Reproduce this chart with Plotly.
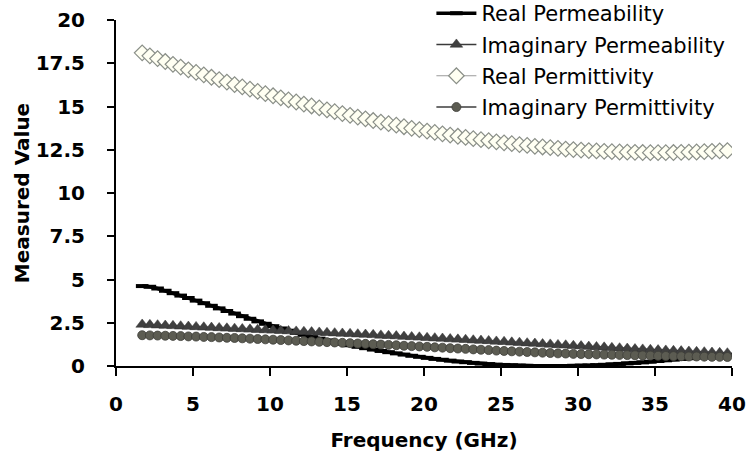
import plotly.graph_objects as go

frequency = [1.7, 2.2, 2.7, 3.2, 3.7, 4.2, 4.7, 5.2, 5.7, 6.2, 6.7, 7.2, 7.7, 8.2, 8.7, 9.2,
             9.7, 10.2, 10.7, 11.2, 11.7, 12.2, 12.7, 13.2, 13.7, 14.2, 14.7, 15.2, 15.7,
             16.2, 16.7, 17.2, 17.7, 18.2, 18.7, 19.2, 19.7, 20.2, 20.7, 21.2, 21.7, 22.2,
             22.7, 23.2, 23.7, 24.2, 24.7, 25.2, 25.7, 26.2, 26.7, 27.2, 27.7, 28.2, 28.7,
             29.2, 29.7, 30.2, 30.7, 31.2, 31.7, 32.2, 32.7, 33.2, 33.7, 34.2, 34.7, 35.2,
             35.7, 36.2, 36.7, 37.2, 37.7, 38.2, 38.7, 39.2, 39.7]

real_permeability = [4.62, 4.58, 4.48, 4.35, 4.21, 4.07, 3.93, 3.78, 3.63, 3.48, 3.33, 3.18,
                     3.03, 2.88, 2.73, 2.58, 2.44, 2.30, 2.17, 2.04, 1.92, 1.80, 1.69, 1.58,
                     1.48, 1.38, 1.29, 1.20, 1.11, 1.03, 0.95, 0.87, 0.80, 0.73, 0.66, 0.59,
                     0.53, 0.47, 0.41, 0.36, 0.31, 0.26, 0.22, 0.18, 0.14, 0.11, 0.08, 0.06,
                     0.04, 0.02, 0.01, 0.00, 0.00, 0.00, 0.00, 0.00, 0.01, 0.02, 0.03, 0.05,
                     0.07, 0.09, 0.12, 0.15, 0.18, 0.21, 0.25, 0.29, 0.33, 0.37, 0.41, 0.45,
                     0.49, 0.53, 0.57, 0.61, 0.65]

imaginary_permeability = [2.40, 2.38, 2.36, 2.34, 2.32, 2.30, 2.28, 2.26, 2.24, 2.22, 2.20,
                          2.18, 2.16, 2.14, 2.12, 2.10, 2.08, 2.06, 2.04, 2.02, 2.00, 1.98,
                          1.96, 1.94, 1.92, 1.90, 1.88, 1.86, 1.84, 1.82, 1.80, 1.77, 1.75,
                          1.73, 1.70, 1.68, 1.66, 1.63, 1.61, 1.59, 1.56, 1.54, 1.52, 1.49,
                          1.47, 1.45, 1.42, 1.40, 1.37, 1.35, 1.32, 1.30, 1.27, 1.25, 1.22,
                          1.20, 1.17, 1.15, 1.12, 1.10, 1.08, 1.05, 1.03, 1.01, 0.98, 0.96,
                          0.94, 0.92, 0.90, 0.88, 0.86, 0.84, 0.82, 0.80, 0.78, 0.76, 0.74]

real_permittivity = [18.10, 17.93, 17.77, 17.60, 17.44, 17.28, 17.12, 16.97, 16.83, 16.69,
                     16.55, 16.41, 16.27, 16.13, 16.00, 15.87, 15.74, 15.62, 15.50, 15.38,
                     15.26, 15.14, 15.03, 14.92, 14.81, 14.70, 14.59, 14.49, 14.39, 14.29,
                     14.19, 14.10, 14.01, 13.92, 13.83, 13.74, 13.66, 13.58, 13.50, 13.42,
                     13.35, 13.28, 13.21, 13.14, 13.08, 13.02, 12.96, 12.90, 12.85, 12.80,
                     12.75, 12.70, 12.66, 12.62, 12.58, 12.54, 12.51, 12.48, 12.45, 12.43,
                     12.41, 12.39, 12.37, 12.36, 12.35, 12.34, 12.33, 12.33, 12.33, 12.34,
                     12.35, 12.36, 12.37, 12.39, 12.41, 12.43, 12.45]

imaginary_permittivity = [1.78, 1.77, 1.76, 1.75, 1.74, 1.73, 1.71, 1.70, 1.68, 1.67, 1.65,
                          1.63, 1.62, 1.60, 1.58, 1.56, 1.54, 1.52, 1.50, 1.48, 1.46, 1.44,
                          1.42, 1.40, 1.38, 1.36, 1.34, 1.32, 1.30, 1.28, 1.26, 1.24, 1.22,
                          1.20, 1.17, 1.15, 1.13, 1.11, 1.08, 1.06, 1.03, 1.01, 0.99, 0.96,
                          0.94, 0.92, 0.89, 0.87, 0.85, 0.83, 0.81, 0.79, 0.77, 0.75, 0.73,
                          0.72, 0.70, 0.69, 0.68, 0.67, 0.66, 0.65, 0.64, 0.63, 0.62, 0.61,
                          0.60, 0.59, 0.58, 0.57, 0.56, 0.55, 0.55, 0.54, 0.53, 0.53, 0.52]

x_ticks = [0, 5, 10, 15, 20, 25, 30, 35, 40]
y_ticks = [0, 2.5, 5, 7.5, 10, 12.5, 15, 17.5, 20]
y_tick_labels = ["0", "2.5", "5", "7.5", "10", "12.5", "15", "17.5", "20"]

BOLD = "DejaVu Sans, Arial, sans-serif"
LEG = "DejaVu Sans, Arial, sans-serif"

fig = go.Figure()
fig.add_trace(go.Scatter(
    x=frequency, y=real_permeability, name="Real Permeability", mode="lines+markers",
    line=dict(color="black", width=3.5),
    marker=dict(symbol="line-ew", size=9, line=dict(color="black", width=4)),
    legendgroup="a"))
fig.add_trace(go.Scatter(
    x=frequency, y=imaginary_permeability, name="Imaginary Permeability", mode="lines+markers",
    line=dict(color="#3a3a3a", width=1.5),
    marker=dict(symbol="triangle-up", size=11, color="#404040",
                line=dict(color="#333333", width=0.5)),
    legendgroup="b"))
fig.add_trace(go.Scatter(
    x=frequency, y=real_permittivity, name="Real Permittivity", mode="lines+markers",
    line=dict(color="#9a9a9a", width=1),
    marker=dict(symbol="diamond", size=12, color="#fffff2",
                line=dict(color="#8a8f88", width=1.2)),
    legendgroup="c"))
fig.add_trace(go.Scatter(
    x=frequency, y=imaginary_permittivity, name="Imaginary Permittivity", mode="lines+markers",
    line=dict(color="#3c3c3c", width=1.5),
    marker=dict(symbol="circle", size=9, color="#5c5c52",
                line=dict(color="#3e3e38", width=0.8)),
    legendgroup="d"))

fig.update_layout(
    width=747, height=463,
    margin=dict(l=116, r=15, t=20, b=97, autoexpand=False),
    paper_bgcolor="white", plot_bgcolor="white",
    font=dict(family=BOLD, color="black"),
    showlegend=True,
    legend=dict(x=0.512, y=1.078, xanchor="left", yanchor="top",
                font=dict(size=21, color="black", family=LEG),
                bgcolor="rgba(0,0,0,0)", tracegroupgap=1, itemwidth=40),
)
fig.update_xaxes(
    range=[0, 40], tickmode="array", tickvals=x_ticks,
    showline=True, linecolor="black", linewidth=2, mirror=False,
    ticks="outside", ticklen=8, tickwidth=2, tickcolor="black",
    tickfont=dict(size=20, family=BOLD, weight="bold"),
    ticklabelstandoff=11,
    showgrid=False, zeroline=False,
    title=dict(text="<b>Frequency (GHz)</b>", font=dict(size=20, family=BOLD), standoff=18),
)
fig.update_yaxes(
    range=[0, 20], tickmode="array", tickvals=y_ticks, ticktext=y_tick_labels,
    showline=True, linecolor="black", linewidth=2,
    ticks="outside", ticklen=7, tickwidth=2, tickcolor="black",
    tickfont=dict(size=20, family=BOLD, weight="bold"),
    ticklabelstandoff=18,
    showgrid=False, zeroline=False,
    title=dict(text="<b>Measured Value</b>", font=dict(size=20, family=BOLD), standoff=1),
)

fig.write_html("out.html")
